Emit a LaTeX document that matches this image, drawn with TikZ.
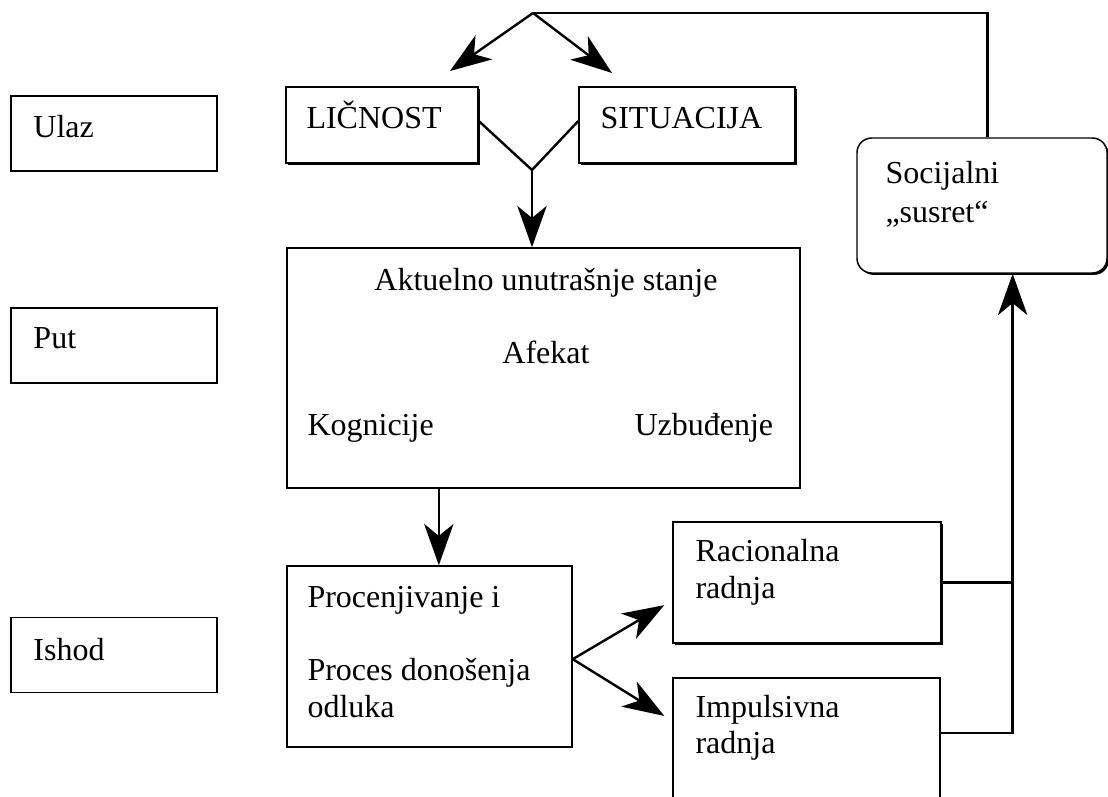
\documentclass[tikz,border=0pt]{standalone}
\usepackage{fontspec}
\setmainfont{Liberation Serif}
\usetikzlibrary{arrows.meta,shadows}

\tikzset{every picture/.style={line width=0.75pt}}
\tikzset{
  blok/.style={draw, line width=1.1pt, inner sep=0pt},
  senka/.style={drop shadow={shadow xshift=1.4pt, shadow yshift=-1.4pt, opacity=1, fill=black}, fill=white},
  tekst/.style={font=\fontsize{24}{28}\selectfont, anchor=base west, inner sep=0pt},
  veza/.style={line width=1.8pt},
  >={Stealth[length=31pt,width=22pt,inset=9pt]}
}

\begin{document}
\begin{tikzpicture}[x=0.75pt,y=0.75pt,yscale=-1,xscale=1]
	\clip (0,0) rectangle (1108,797);

	%Left column
	\node[blok, minimum width=154.5pt, minimum height=56.25pt] (ulaz) at (114,133.5) {};
	\node[blok, minimum width=154.5pt, minimum height=56.25pt] (put) at (114,345.5) {};
	\node[blok, minimum width=154.5pt, minimum height=56.25pt] (ishod) at (114,655) {};

	%Input boxes
	\node[blok, senka, minimum width=144pt, minimum height=57pt] (lic) at (382,125) {};
	\node[blok, senka, minimum width=162pt, minimum height=57pt] (sit) at (687,125) {};

	%State and decision
	\node[blok, minimum width=384.75pt, minimum height=180pt] (akt) at (543.5,368) {};
	\node[blok, minimum width=213.75pt, minimum height=135.75pt] (proc) at (429.5,656.5) {};

	%Actions
	\node[blok, senka, minimum width=201pt, minimum height=90.75pt] (rac) at (807,582.5) {};
	\node[blok, minimum width=200.25pt, minimum height=121.5pt] (imp) at (806.5,759) {};

	%Social encounter
	\node[blok, senka, rounded corners=11pt, minimum width=187.5pt, minimum height=101.25pt] (soc) at (982,205.5) {};

	% Text Node
	\node[tekst] (t-ulaz) at (33,137) {Ulaz};
	\node[tekst] (t-put) at (33,348) {Put};
	\node[tekst] (t-ishod) at (33,660) {Ishod};
	\node[tekst] (t-lic) at (306,128) {LIČNOST};
	\node[tekst] (t-sit) at (600,128) {SITUACIJA};
	\node[tekst, anchor=base] (t-akt) at (546,290) {Aktuelno unutrašnje stanje};
	\node[tekst, anchor=base] (t-afe) at (546,363) {Afekat};
	\node[tekst] (t-kog) at (307,435) {Kognicije};
	\node[tekst] (t-uzb) at (634,435) {Uzbuđenje};
	\node[tekst] (t-proc1) at (307,607) {Procenjivanje i};
	\node[tekst] (t-proc2) at (307,680) {Proces donošenja};
	\node[tekst] (t-proc3) at (307,717) {odluka};
	\node[tekst] (t-rac1) at (695,561) {Racionalna};
	\node[tekst] (t-rac2) at (695,598) {radnja};
	\node[tekst] (t-imp1) at (695,717) {Impulsivna};
	\node[tekst] (t-imp2) at (695,753) {radnja};
	\node[tekst] (t-soc1) at (885,183) {Socijalni};
	\node[tekst] (t-soc2) at (885,222) {„susret“};

	%Coordinates
	\coordinate (vrh) at (533,13);
	\coordinate (vrhL) at (450,71);
	\coordinate (vrhD) at (612,73);
	\coordinate (spojV) at (532,170);
	\coordinate (spoj) at ([xshift=23pt]soc.south);

	%Connectors
	\draw[veza] ([xshift=4pt]soc.north) |- (vrh);
	\draw[veza, ->] (vrh) -- (vrhL);
	\draw[veza, ->] (vrh) -- (vrhD);
	\draw[veza] ([yshift=-3pt]lic.east) -- (spojV) -- ([yshift=-3pt]sit.west);
	\draw[veza, ->] (spojV) -- (spojV |- akt.north);
	\draw[veza, ->] ([xshift=7pt]proc.north |- akt.south) -- ([xshift=7pt]proc.north);
	\draw[veza, ->] ([yshift=2pt]proc.east) -- ([xshift=-6pt,yshift=17pt]rac.west);
	\draw[veza, ->] ([yshift=2pt]proc.east) -- ([xshift=-6pt,yshift=29pt]imp.north west);
	\draw[veza] (rac.east) -- (rac.east -| spoj);
	\draw[veza, ->] ([yshift=42pt]imp.north east) -| (spoj);

\end{tikzpicture}
\end{document}
